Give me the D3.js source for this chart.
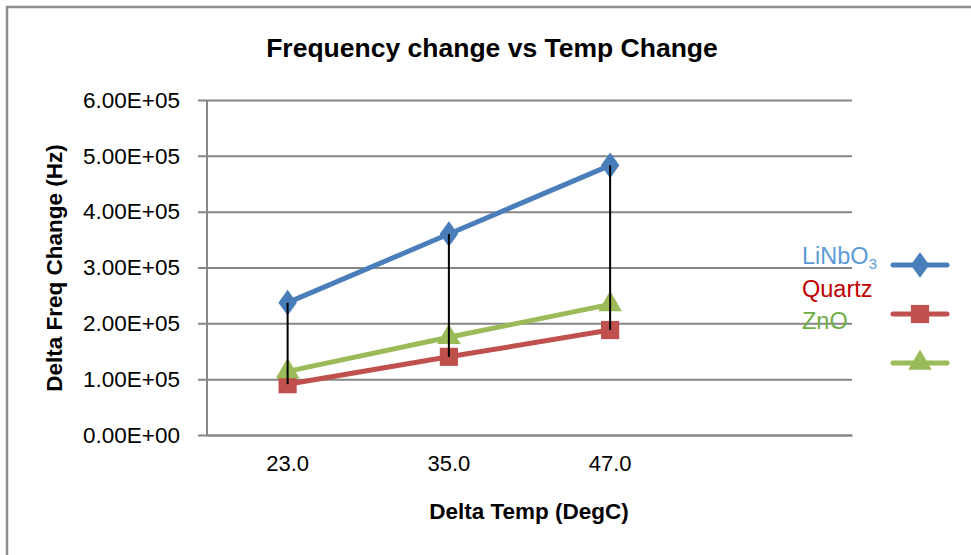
<!DOCTYPE html>
<html>
<head>
<meta charset="utf-8">
<script src="https://cdn.jsdelivr.net/npm/d3@7"></script>
<style>
  body { margin: 0; background: #fff; }
  text { font-family: "Liberation Sans", Arial, sans-serif; }
</style>
</head>
<body>
<div id="chart"></div>
<script>
// categories on the x axis (the 4th slot is empty in the original)
let categories = ["23.0", "35.0", "47.0", ""]
let temps = ["23.0", "35.0", "47.0"]

let linbo3 = [2.37e5, 3.60e5, 4.83e5]
let quartz = [0.91e5, 1.40e5, 1.88e5]
let zno = [1.14e5, 1.75e5, 2.34e5]

let yTicks = [0, 1e5, 2e5, 3e5, 4e5, 5e5, 6e5]

let series = [
    {name: "LiNbO", sub: "3", values: linbo3, color: "#4a7ebb", text: "#5b9bd5", marker: "diamond"},
    {name: "Quartz", sub: "", values: quartz, color: "#c0504d", text: "#c00000", marker: "square"},
    {name: "ZnO", sub: "", values: zno, color: "#9bbb59", text: "#70ad47", marker: "triangle"}
]

let width = 971, height = 555
let plot = {left: 207, right: 852, top: 100, bottom: 435}

let svg = d3.select('#chart')
    .append('svg')
    .attr('width', width)
    .attr('height', height)

// outer chart border
svg.append('rect')
    .attr('x', 7).attr('y', 7)
    .attr('width', width + 20).attr('height', height + 20)
    .attr('fill', 'none')
    .attr('stroke', '#8c8c8c')
    .attr('stroke-width', 2.5)

let x = d3.scaleBand()
    .domain(categories)
    .range([plot.left, plot.right])
    .padding(0)

let y = d3.scaleLinear()
    .domain([0, 6e5])
    .range([plot.bottom, plot.top])

let cx = d => x(d) + x.bandwidth() / 2

// gridlines + y axis labels
let yAxis = d3.axisLeft(y)
    .tickValues(yTicks)
    .tickSize(-(plot.right - plot.left) - 9)
    .tickPadding(18)
    .tickFormat(d => d3.format(".2e")(d).replace("e", "E").replace(/E([+-])(\d)$/, "E$10$2"))

let gy = svg.append('g')
    .attr('transform', "translate(" + (plot.left - 9) + ",0)")
    .call(yAxis)
gy.select('.domain').remove()
gy.selectAll('line')
    .attr('stroke', '#868686')
    .attr('stroke-width', 2)
gy.selectAll('text')
    .attr('x', -18)
    .style('font-size', '22.5px')
    .attr('fill', '#000')

// vertical value axis line
svg.append('line')
    .attr('x1', plot.left).attr('x2', plot.left)
    .attr('y1', plot.top).attr('y2', plot.bottom + 1)
    .attr('stroke', '#868686')
    .attr('stroke-width', 2)

// x axis
let xAxis = d3.axisBottom(x).tickSize(0).tickPadding(20)
let gx = svg.append('g')
    .attr('transform', "translate(0," + plot.bottom + ")")
    .call(xAxis)
gx.select('.domain')
    .attr('stroke', '#868686')
    .attr('stroke-width', 2)
gx.selectAll('text')
    .style('font-size', '22px')
    .attr('fill', '#000')

// series lines
let line = d3.line()
    .x((d, i) => cx(temps[i]))
    .y(d => y(d))

let symbolType = {diamond: d3.symbolDiamond, square: d3.symbolSquare, triangle: d3.symbolTriangle}
let symbolSize = {diamond: 190, square: 330, triangle: 240}

series.forEach(s => {
    svg.append('path')
        .datum(s.values)
        .attr('d', line)
        .attr('fill', 'none')
        .attr('stroke', s.color)
        .attr('stroke-width', 5)
        .attr('stroke-linejoin', 'round')
        .attr('stroke-linecap', 'round')

    svg.selectAll('.m-' + s.marker)
        .data(s.values)
        .enter()
        .append('path')
        .attr('class', 'm-' + s.marker)
        .attr('transform', (d, i) => "translate(" + cx(temps[i]) + "," + y(d) + ")" + (s.marker == 'diamond' ? " scale(1.25,1)" : ""))
        .attr('d', d3.symbol().type(symbolType[s.marker]).size(symbolSize[s.marker]))
        .attr('fill', s.color)
})

// high-low lines
svg.selectAll('.hilo')
    .data(temps)
    .enter()
    .append('line')
    .attr('class', 'hilo')
    .attr('x1', d => cx(d)).attr('x2', d => cx(d))
    .attr('y1', (d, i) => y(d3.max(series, s => s.values[i])))
    .attr('y2', (d, i) => y(d3.min(series, s => s.values[i])))
    .attr('stroke', '#000')
    .attr('stroke-width', 2)

// legend keys
let legendY = d3.scalePoint().domain(series.map(s => s.name)).range([265, 363])
series.forEach(s => {
    let ly = legendY(s.name)
    svg.append('line')
        .attr('x1', 893).attr('x2', 947)
        .attr('y1', ly).attr('y2', ly)
        .attr('stroke', s.color)
        .attr('stroke-width', 5)
        .attr('stroke-linecap', 'round')
    svg.append('path')
        .attr('transform', "translate(920," + ly + ")" + (s.marker == 'diamond' ? " scale(1.25,1)" : ""))
        .attr('d', d3.symbol().type(symbolType[s.marker]).size(symbolSize[s.marker]))
        .attr('fill', s.color)
})

// legend labels (sit left of the keys, offset as in the original)
let labelY = d3.scalePoint().domain(series.map(s => s.name)).range([264, 329])
series.forEach(s => {
    let t = svg.append('text')
        .attr('x', 802)
        .attr('y', labelY(s.name))
        .attr('fill', s.text)
        .style('font-size', '23.5px')
        .text(s.name)
    if (s.sub) {
        t.append('tspan')
            .attr('dy', 5)
            .style('font-size', '15px')
            .text(s.sub)
    }
})

// titles
svg.append('text')
    .attr('x', 492).attr('y', 57)
    .attr('text-anchor', 'middle')
    .style('font-size', '26.5px')
    .style('font-weight', 'bold')
    .text("Frequency change vs Temp Change")

svg.append('text')
    .attr('x', 529).attr('y', 519)
    .attr('text-anchor', 'middle')
    .style('font-size', '22.5px')
    .style('font-weight', 'bold')
    .text("Delta Temp (DegC)")

svg.append('text')
    .attr('transform', "translate(62,268) rotate(-90)")
    .attr('text-anchor', 'middle')
    .style('font-size', '22.5px')
    .style('font-weight', 'bold')
    .text("Delta Freq Change (Hz)")
</script>
</body>
</html>
